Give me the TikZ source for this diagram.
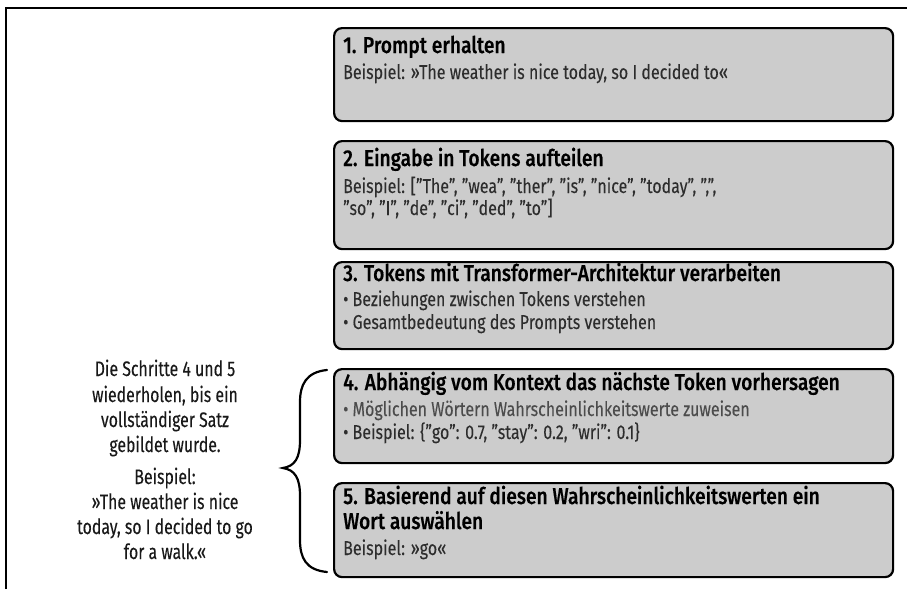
\documentclass[tikz,border=0pt]{standalone}
\usepackage{fontspec}
\setmainfont[FakeStretch=0.80,FakeBold=0.1]{Fira Sans}
\IfFontExistsTF{Fira Sans Medium}
  {\newfontfamily\ttlfont[FakeStretch=0.835,FakeBold=0.3]{Fira Sans Medium}}
  {\newfontfamily\ttlfont[FakeStretch=0.835,FakeBold=0.8]{Fira Sans}}
\newfontfamily\sidefont[FakeStretch=0.755,FakeBold=0.15]{Fira Sans}
\definecolor{boxgray}{RGB}{204,204,204}
\definecolor{txtgray}{RGB}{45,45,45}
\begin{document}
\begin{tikzpicture}[x=1pt,y=-1pt,
  stepbox/.style={draw=black, line width=2.2pt, rounded corners=8pt, fill=boxgray,
    minimum width=559pt, anchor=north west, inner sep=0pt},
  ttl/.style={anchor=base west, font=\ttlfont\fontsize{23}{25}\selectfont, text=black, inner sep=0pt, align=left},
  bdy/.style={anchor=base west, font=\fontsize{20}{23}\selectfont, text=txtgray, inner sep=0pt, align=left},
  side/.style={anchor=base, font=\sidefont\fontsize{21}{25}\selectfont, text=black!90, inner sep=0pt, align=center},
]
\useasboundingbox (0,0) rectangle (907,589);
\draw[line width=1.5pt] (6,589) -- (6,8) -- (907,8);

\node[stepbox, minimum height=93pt] (b1) at (333,27) {};
\node[stepbox, minimum height=108pt] (b2) at (333,140) {};
\node[stepbox, minimum height=87pt] (b3) at (333,261) {};
\node[stepbox, minimum height=94pt] (b4) at (333,368) {};
\node[stepbox, minimum height=94pt] (b5) at (333,482) {};

\node[ttl] (t1) at (343,53) {1. Prompt erhalten};
\node[bdy] (s1) at (343,79) {Beispiel: »The weather is nice today, so I decided to«};

\node[ttl] (t2) at (343,166) {2. Eingabe in Tokens aufteilen};
\node[bdy] (s2a) at (343,193) {Beispiel: ["The", "wea", "ther", "is", "nice", "today", ",",};
\node[bdy] (s2b) at (343,215) {"so", "I", "de", "ci", "ded", "to"]};

\node[ttl] (t3) at (343,281) {3. Tokens mit Transformer-Architektur verarbeiten};
\node[bdy] (s3a) at (343,306) {• Beziehungen zwischen Tokens verstehen};
\node[bdy] (s3b) at (343,329) {• Gesamtbedeutung des Prompts verstehen};

\node[ttl] (t4) at (343,390) {4. Abhängig vom Kontext das nächste Token vorhersagen};
\node[bdy, text=black!70] (s4a) at (343,416) {• Möglichen Wörtern Wahrscheinlichkeitswerte zuweisen};
\node[bdy] (s4b) at (343,439) {• Beispiel: \{"go": 0.7, "stay": 0.2, "wri": 0.1\}};

\node[ttl] (t5a) at (343,504) {5. Basierend auf diesen Wahrscheinlichkeitswerten ein};
\node[ttl] (t5b) at (343,529) {Wort auswählen};
\node[bdy] (s5) at (343,555) {Beispiel: »go«};

\node[side] (l1) at (165,376) {Die Schritte 4 und 5};
\node[side] (l2) at (165,402) {wiederholen, bis ein};
\node[side] (l3) at (165,427) {vollständiger Satz};
\node[side] (l4) at (165,452) {gebildet wurde.};
\node[side] (l5) at (165,484) {Beispiel:};
\node[side] (l6) at (165,509) {»The weather is nice};
\node[side] (l7) at (165,534) {today, so I decided to go};
\node[side] (l8) at (165,559) {for a walk.«};

\coordinate (bt) at (327,370);
\coordinate (bm) at (283,468);
\coordinate (bb) at (327,572);
\draw[line width=2.2pt, line cap=round]
  (bt) .. controls (306,372) and (300,385) .. (300,402)
  -- (300,440) .. controls (300,458) and (295,466) .. (bm)
  .. controls (295,470) and (300,478) .. (300,496)
  -- (300,540) .. controls (300,558) and (306,570) .. (bb);
\end{tikzpicture}
\end{document}
